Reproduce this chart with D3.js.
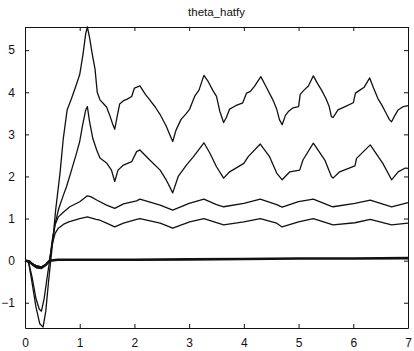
<!DOCTYPE html>
<html>
<head>
<meta charset="utf-8">
<script src="https://cdn.jsdelivr.net/npm/d3@7"></script>
<style>
  body { margin: 0; background: #fff; }
  svg text { font-family: "Liberation Sans", Arial, sans-serif; fill: #111; }
</style>
</head>
<body>
<div id="chart"></div>
<script>
// time / value pairs
const curveA = [[0,0],[0.06,0],[0.12,-0.45],[0.2,-1.1],[0.27,-1.5],[0.33,-1.58],[0.38,-1.2],[0.43,-0.5],[0.47,0],[0.51,0.5],[0.56,1.2],[0.64,2.08],[0.7,2.9],[0.77,3.58],[0.85,3.85],[0.93,4.15],[1.0,4.42],[1.06,4.9],[1.11,5.4],[1.14,5.55],[1.18,5.3],[1.23,4.9],[1.28,4.55],[1.32,4.0],[1.37,3.82],[1.44,3.72],[1.49,3.65],[1.55,3.45],[1.6,3.25],[1.64,3.12],[1.68,3.4],[1.73,3.72],[1.8,3.8],[1.86,3.83],[1.95,3.9],[2.0,4.1],[2.1,4.15],[2.2,3.95],[2.28,3.82],[2.38,3.65],[2.47,3.47],[2.58,3.2],[2.66,2.95],[2.7,2.83],[2.76,3.1],[2.85,3.35],[2.95,3.5],[3.01,3.6],[3.1,3.9],[3.18,4.05],[3.27,4.4],[3.35,4.25],[3.43,4.05],[3.5,3.9],[3.56,3.55],[3.63,3.28],[3.68,3.4],[3.74,3.6],[3.85,3.68],[3.98,3.75],[4.05,3.98],[4.12,4.02],[4.2,4.15],[4.31,4.37],[4.4,4.15],[4.53,3.82],[4.6,3.6],[4.65,3.35],[4.7,3.23],[4.76,3.45],[4.82,3.55],[4.9,3.63],[5.0,3.66],[5.03,3.95],[5.1,4.05],[5.18,4.15],[5.27,4.39],[5.35,4.2],[5.42,4.05],[5.5,3.85],[5.56,3.66],[5.6,3.42],[5.63,3.4],[5.68,3.5],[5.72,3.58],[5.85,3.66],[6.0,3.75],[6.04,3.98],[6.12,4.05],[6.2,4.12],[6.3,4.34],[6.37,4.1],[6.45,3.85],[6.52,3.7],[6.6,3.5],[6.66,3.35],[6.7,3.3],[6.76,3.45],[6.82,3.58],[6.9,3.65],[7.0,3.68]];
const curveB = [[0,0],[0.06,0],[0.13,-0.4],[0.2,-0.9],[0.26,-1.15],[0.3,-1.2],[0.35,-0.9],[0.41,-0.35],[0.45,0],[0.5,0.45],[0.55,0.88],[0.62,1.25],[0.7,1.55],[0.76,1.76],[0.85,2.15],[0.93,2.5],[1.0,2.83],[1.05,3.2],[1.11,3.58],[1.14,3.66],[1.18,3.3],[1.24,2.9],[1.31,2.63],[1.37,2.44],[1.49,2.32],[1.58,2.15],[1.64,1.88],[1.7,2.15],[1.8,2.27],[1.95,2.35],[2.04,2.59],[2.1,2.63],[2.28,2.39],[2.47,2.15],[2.58,1.92],[2.7,1.61],[2.8,2.0],[2.95,2.27],[3.08,2.47],[3.27,2.8],[3.38,2.55],[3.5,2.23],[3.63,1.96],[3.74,2.11],[4.0,2.31],[4.08,2.47],[4.3,2.77],[4.47,2.47],[4.6,2.08],[4.7,1.92],[4.84,2.11],[5.02,2.15],[5.08,2.39],[5.27,2.79],[5.48,2.39],[5.6,2.0],[5.63,1.96],[5.75,2.11],[6.03,2.25],[6.06,2.43],[6.31,2.75],[6.54,2.31],[6.7,1.92],[6.82,2.11],[6.95,2.2],[7.0,2.19]];
const curveC = [[0,0],[0.1,-0.05],[0.2,-0.12],[0.3,-0.15],[0.38,-0.1],[0.45,0],[0.5,0.5],[0.55,0.85],[0.61,1.04],[0.7,1.15],[0.82,1.28],[1.0,1.4],[1.14,1.54],[1.2,1.52],[1.31,1.44],[1.49,1.32],[1.64,1.24],[1.8,1.35],[2.04,1.42],[2.1,1.46],[2.47,1.32],[2.7,1.2],[3.0,1.36],[3.27,1.46],[3.5,1.33],[3.63,1.28],[4.0,1.36],[4.3,1.46],[4.6,1.33],[4.7,1.27],[5.0,1.4],[5.27,1.46],[5.6,1.29],[5.63,1.28],[6.03,1.36],[6.31,1.44],[6.7,1.28],[7.0,1.38]];
const curveD = [[0,0],[0.1,-0.05],[0.2,-0.12],[0.3,-0.15],[0.38,-0.1],[0.45,0],[0.5,0.4],[0.55,0.65],[0.61,0.77],[0.7,0.86],[0.8,0.92],[1.0,1.0],[1.14,1.04],[1.3,0.98],[1.37,0.96],[1.49,0.89],[1.64,0.8],[1.8,0.89],[2.04,0.98],[2.1,1.0],[2.47,0.89],[2.7,0.77],[3.01,0.92],[3.27,1.0],[3.63,0.85],[4.0,0.92],[4.3,1.0],[4.6,0.89],[4.7,0.8],[5.0,0.92],[5.27,1.0],[5.63,0.85],[6.03,0.9],[6.31,0.98],[6.7,0.85],[7.0,0.89]];
const curveE = [[0,0],[0.08,-0.02],[0.15,-0.1],[0.22,-0.16],[0.3,-0.17],[0.38,-0.1],[0.45,0],[0.6,0.02],[1,0.02],[2,0.02],[3,0.03],[4,0.04],[5,0.05],[6,0.05],[7,0.06]];

const xTicks = [0, 1, 2, 3, 4, 5, 6, 7];
const yTicks = [-1, 0, 1, 2, 3, 4, 5];
const title = "theta_hatfy";

const W = 414, H = 351;
const m = {left: 25, right: 6, top: 27, bottom: 23};

const svg = d3.select("#chart").append("svg")
    .attr("width", W)
    .attr("height", H);

const x = d3.scaleLinear().domain([0, 7]).range([m.left, W - m.right]);
const y = d3.scaleLinear().domain([-1.6, 5.55]).range([H - m.bottom, m.top]);

const line = d3.line()
    .x(d => x(d[0]))
    .y(d => y(d[1]));

// thin curves
[curveA, curveB, curveC, curveD].forEach(c => {
    svg.append("path")
        .datum(c)
        .attr("fill", "none")
        .attr("stroke", "#111")
        .attr("stroke-width", 1.3)
        .attr("stroke-linejoin", "round")
        .attr("d", line);
});

// thick one near zero
svg.append("path")
    .datum(curveE)
    .attr("fill", "none")
    .attr("stroke", "#111")
    .attr("stroke-width", 2.6)
    .attr("d", line);

// frame and ticks, inward like matlab
const tk = 4;
const fmt = d3.format("d");
svg.append("g")
    .attr("transform", `translate(0,${H - m.bottom})`)
    .call(d3.axisBottom(x).tickValues(xTicks).tickFormat(fmt).tickSizeInner(-tk).tickSizeOuter(0).tickPadding(10));
svg.append("g")
    .attr("transform", `translate(0,${m.top})`)
    .call(d3.axisTop(x).tickValues(xTicks).tickSizeInner(-tk).tickSizeOuter(0).tickFormat(""));
svg.append("g")
    .attr("transform", `translate(${m.left},0)`)
    .call(d3.axisLeft(y).tickValues(yTicks).tickFormat(fmt).tickSizeInner(-tk).tickSizeOuter(0).tickPadding(10));
svg.append("g")
    .attr("transform", `translate(${W - m.right},0)`)
    .call(d3.axisRight(y).tickValues(yTicks).tickSizeInner(-tk).tickSizeOuter(0).tickFormat(""));

svg.selectAll(".domain, .tick line").attr("stroke", "#111");
svg.selectAll(".tick text")
    .attr("font-size", 12)
    .attr("font-family", "Liberation Sans, Arial, sans-serif")
    .attr("fill", "#111");

svg.append("text")
    .attr("x", (m.left + W - m.right) / 2)
    .attr("y", 16)
    .attr("text-anchor", "middle")
    .attr("font-size", 11.5)
    .text(title);
</script>
</body>
</html>
